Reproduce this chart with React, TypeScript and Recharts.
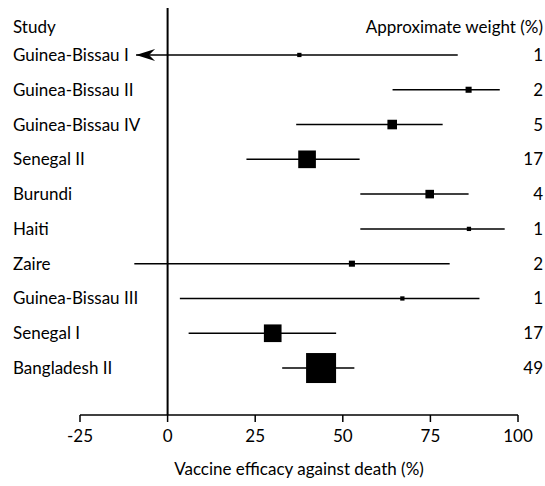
import React from 'react';
import {
  ScatterChart,
  Scatter,
  XAxis,
  YAxis,
  ZAxis,
  ErrorBar,
  ReferenceLine,
} from 'recharts';

const studies = [
  'Guinea-Bissau I',
  'Guinea-Bissau II',
  'Guinea-Bissau IV',
  'Senegal II',
  'Burundi',
  'Haiti',
  'Zaire',
  'Guinea-Bissau III',
  'Senegal I',
  'Bangladesh II',
];
const estimates = [37.6, 85.9, 64.1, 39.8, 74.8, 86, 52.6, 67, 30, 43.8];
const lower = [-9, 64.2, 36.7, 22.5, 55, 55, -9.5, 3.5, 6, 32.7];
const upper = [82.8, 94.8, 78.5, 54.8, 85.9, 96.2, 80.5, 89, 48.1, 53.3];
const weights = [1, 2, 5, 17, 4, 1, 2, 1, 17, 49];
const xTicks = [-25, 0, 25, 50, 75, 100];

// the first study's interval runs off past the zero line, drawn as an arrow
const arrowStudies = [0];

const HEADER_ROW = -0.8;
const FONT = 'Lato, "Open Sans", sans-serif';
const INK = '#000';
const FS = 17;

const rows = studies.map((name, i) => ({
  row: i,
  est: estimates[i],
  w: weights[i],
  err: [estimates[i] - lower[i], upper[i] - estimates[i]],
}));

const arrows = arrowStudies.map((i) => ({ row: i, est: lower[i], w: 1 }));

// study names on the left, weights on the right, both keyed off the row tick
const RowTick = ({ y, payload }: any) => {
  const header = payload.value === HEADER_ROW;
  return (
    <g fontSize={FS} fontFamily={FONT} fill={INK}>
      <text x={13} y={y} dy={6} textAnchor="start">
        {header ? 'Study' : studies[payload.value]}
      </text>
      <text x={543} y={y} dy={6} textAnchor="end">
        {header ? 'Approximate weight (%)' : weights[payload.value]}
      </text>
    </g>
  );
};

const ArrowHead = ({ cx, cy }: any) => (
  <path
    d={`M${cx},${cy} L${cx + 19},${cy - 6} L${cx + 13},${cy} L${cx + 19},${cy + 6} Z`}
    fill={INK}
  />
);

export default function App() {
  const yTicks = [HEADER_ROW, ...studies.map((_, i) => i)];
  return (
    <div style={{ position: 'absolute', left: 0, top: 0, background: '#fff' }}>
      <ScatterChart width={545} height={486} margin={{ top: 8, right: 27, bottom: 0, left: 0 }}>
        <XAxis
          type="number"
          dataKey="est"
          domain={[-25, 100]}
          ticks={xTicks}
          allowDataOverflow
          height={71}
          stroke={INK}
          strokeWidth={1.5}
          tickSize={7}
          tickMargin={8}
          tick={{ fill: INK, fontSize: FS, fontFamily: FONT }}
          label={{
            value: 'Vaccine efficacy against death (%)',
            position: 'insideBottom',
            offset: 11,
            fill: INK,
            fontSize: FS,
            fontFamily: FONT,
          }}
        />
        <YAxis
          type="number"
          dataKey="row"
          reversed
          domain={[-1.35, 10.35]}
          ticks={yTicks}
          width={80}
          axisLine={false}
          tickLine={false}
          tick={<RowTick />}
        />
        <ZAxis type="number" dataKey="w" domain={[0, 49]} range={[0, 900]} />
        <ReferenceLine x={0} stroke={INK} strokeWidth={2} />
        <Scatter data={rows} shape="square" fill={INK} isAnimationActive={false}>
          <ErrorBar dataKey="err" direction="x" width={0} stroke={INK} strokeWidth={1.5} />
        </Scatter>
        <Scatter data={arrows} shape={<ArrowHead />} isAnimationActive={false} />
      </ScatterChart>
    </div>
  );
}
